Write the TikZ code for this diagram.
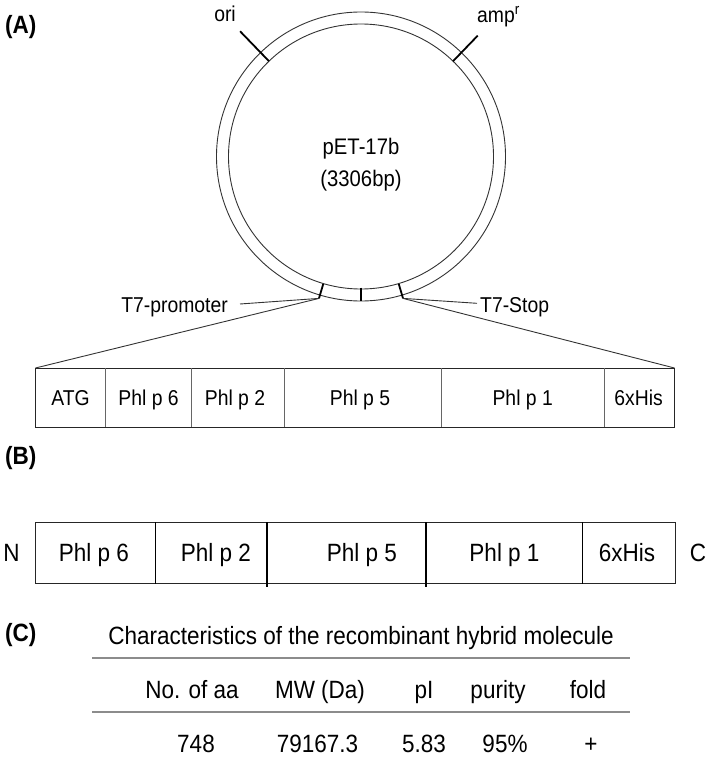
\documentclass[tikz,border=0pt]{standalone}
\usepackage{fontspec}
\setmainfont[FakeStretch=0.9]{Liberation Sans}
\usetikzlibrary{calc}
\begin{document}
\begin{tikzpicture}[x=1pt,y=-1pt,
  ring/.style={draw=black!80, line width=0.9pt},
  tickmark/.style={draw=black, line width=1.8pt},
  leader/.style={draw=black!80, line width=0.9pt},
  boxA/.style={draw=black!85, line width=1pt},
  divA/.style={draw=black!60, line width=0.8pt},
  boxB/.style={draw=black!85, line width=1pt},
  divB/.style={draw=black, line width=1.5pt},
  tabrule/.style={draw=black!45, line width=1.6pt},
  lblA/.style={font=\fontsize{21.5}{21.5}\selectfont, inner sep=0pt, text height=15.4pt, text depth=0pt},
  lblB/.style={font=\fontsize{25}{25}\selectfont, inner sep=0pt, text height=17.9pt, text depth=0pt},
  panel/.style={font=\bfseries\fontsize{25}{25}\selectfont, inner sep=0pt, text height=17.9pt, text depth=0pt}]
\useasboundingbox (0,0) rectangle (709,759);

% ---------- panel A ----------
\node[panel, anchor=west] (pA) at (5,25) {(A)};
\coordinate (c) at (361,156.5);
\draw[ring] (c) circle (144.5pt);
\draw[ring] (c) circle (132.5pt);

\coordinate (oriIn) at ($(c)+(134:132.5pt)$);
\coordinate (oriOut) at ($(c)+(134:174pt)$);
\draw[tickmark] (oriIn) -- (oriOut);
\coordinate (ampIn) at ($(c)+(46:132.5pt)$);
\coordinate (ampOut) at ($(c)+(46:168pt)$);
\draw[tickmark] (ampIn) -- (ampOut);

\coordinate (midIn) at ($(c)+(270:131pt)$);
\coordinate (midOut) at ($(c)+(270:144.5pt)$);
\draw[tickmark, line width=1.5pt] (midIn) -- (midOut);
\coordinate (pIn) at ($(c)+(253.5:133pt)$);
\coordinate (pOut) at ($(c)+(253.5:148pt)$);
\draw[tickmark] (pIn) -- (pOut);
\coordinate (sIn) at ($(c)+(286.5:133pt)$);
\coordinate (sOut) at ($(c)+(286.5:148pt)$);
\draw[tickmark] (sIn) -- (sOut);

\node[lblA, anchor=base] (ori) at (225,21.7) {ori};
\node[lblA, anchor=base west] (amp) at (477,22.5) {amp\textsuperscript{r}};
\node[lblA, font=\fontsize{22.5}{22.5}\selectfont, text height=16.1pt] (pet) at (361,146.5) {pET-17b};
\node[lblA, font=\fontsize{22.5}{22.5}\selectfont, text height=16.1pt] (bp) at (361,178) {(3306bp)};

\node[lblA, anchor=base east] (t7p) at (228,312.3) {T7-promoter};
\node[lblA, anchor=base west] (t7s) at (480,312.3) {T7-Stop};
\coordinate (t7pEnd) at (240,304);
\coordinate (t7sEnd) at (477,303.3);
\draw[leader] (t7pEnd) -- (pOut);
\draw[leader] (sOut) -- (t7sEnd);

% box A
\coordinate (aTL) at (35.5,368);
\coordinate (aTR) at (674.5,368);
\coordinate (aBR) at (674.5,427.3);
\draw[leader] (pOut) -- (aTL);
\draw[leader] (sOut) -- (aTR);
\draw[boxA] (aTL) rectangle (aBR);
\foreach \x in {105,191.4,284,441.4,604} \draw[divA] (\x,368) -- (\x,427.3);
\node[lblA] (a1) at (70.5,397.5) {ATG};
\node[lblA] (a2) at (148.6,397.5) {Phl p 6};
\node[lblA] (a3) at (235,397.5) {Phl p 2};
\node[lblA] (a4) at (360,397.5) {Phl p 5};
\node[lblA] (a5) at (522.7,397.5) {Phl p 1};
\node[lblA] (a6) at (638.6,397.5) {6xHis};

% ---------- panel B ----------
\node[panel, anchor=west] (pB) at (5,456) {(B)};
\coordinate (bTL) at (35.5,522.3);
\coordinate (bBR) at (675.5,583.6);
\draw[boxB] (bTL) rectangle (bBR);
\draw[divB] (155.5,522.3) -- (155.5,583.6);
\draw[divB] (266.8,522.3) -- (266.8,586.5);
\draw[divB] (426,522.3) -- (426,586.5);
\draw[divB] (582.7,522.3) -- (582.7,583.6);
\node[lblB] (nN) at (11.5,553) {N};
\node[lblB] (nC) at (698,553) {C};
\node[lblB] (b1) at (94,553) {Phl p 6};
\node[lblB] (b2) at (216,553) {Phl p 2};
\node[lblB] (b3) at (362,553) {Phl p 5};
\node[lblB] (b4) at (504.5,553) {Phl p 1};
\node[lblB] (b5) at (627,553) {6xHis};

% ---------- panel C ----------
\node[panel, anchor=west] (pC) at (5,633) {(C)};
\node[lblB] (title) at (361,636) {Characteristics of the recombinant hybrid molecule};
\coordinate (r1L) at (92,658);
\coordinate (r1R) at (630,658);
\coordinate (r2L) at (92,712);
\coordinate (r2R) at (630,712);
\draw[tabrule] (r1L) -- (r1R);
\draw[tabrule] (r2L) -- (r2R);
\node[lblB] (h1) at (192,690) {No. of aa};
\node[lblB] (h2) at (320,690) {MW (Da)};
\node[lblB] (h3) at (424,690) {pI};
\node[lblB] (h4) at (498,690) {purity};
\node[lblB] (h5) at (588,690) {fold};
\node[lblB] (d1) at (196,744) {748};
\node[lblB] (d2) at (317.5,744) {79167.3};
\node[lblB] (d3) at (424,744) {5.83};
\node[lblB] (d4) at (505,744) {95\%};
\node[lblB] (d5) at (591,744) {+};
\end{tikzpicture}
\end{document}
